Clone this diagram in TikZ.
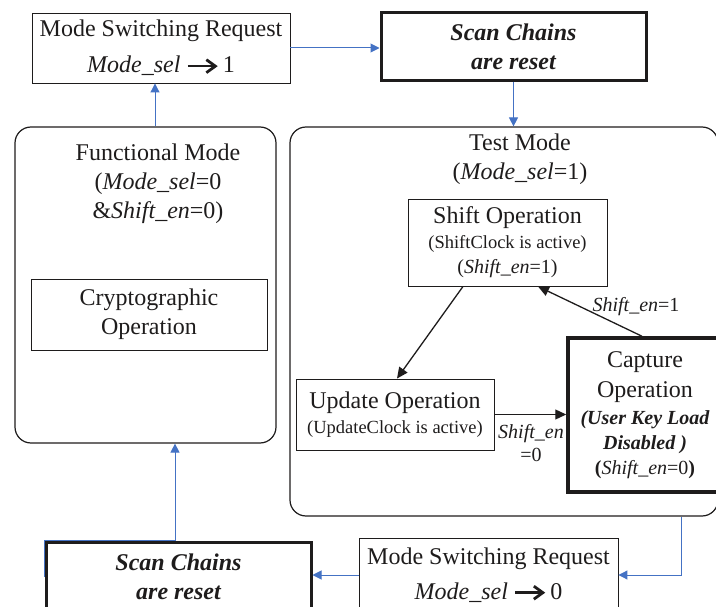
\documentclass[tikz,border=0pt]{standalone}
\usepackage{fontspec}
\setmainfont{Liberation Serif}
\usetikzlibrary{arrows.meta}
\definecolor{linkblue}{RGB}{68,114,196}
\definecolor{ink}{RGB}{30,28,28}
% heavy arrow used inside the mode-switching requests
\newcommand{\selarrow}{\tikz[baseline=-0.6ex,x=1pt,y=1pt]{%
  \draw[ink,line width=2.6pt] (0,0) -- (26,0);
  \draw[ink,line width=2.8pt,line join=miter,line cap=butt] (18.5,6.5) -- (27.5,0) -- (18.5,-6.5);}}
\begin{document}
\begin{tikzpicture}[x=1pt,y=-1pt,
  box/.style={draw=ink, line width=0.9pt, inner sep=0pt, align=center, text=ink},
  thickbox/.style={box, line width=3pt},
  container/.style={draw=ink, line width=1.2pt, rounded corners=16pt, inner sep=0pt},
  txt/.style={inner sep=0pt, align=center, text=ink},
  big/.style={font=\fontsize{24}{29}\selectfont},
  bigbi/.style={font=\fontsize{24}{29}\selectfont\bfseries\itshape},
  flow/.style={linkblue, line width=1pt, -{Triangle[length=9pt,width=9pt]}},
  trans/.style={ink, line width=1.3pt, -{Triangle[length=11pt,width=10pt]}},
]
\useasboundingbox (0,0) rectangle (716,607);
\clip (0,0) rectangle (716,607);

% top row
\node[box, big, minimum width=258pt, minimum height=70pt] (msr1) at (161,48)
  {Mode Switching Request\\[7pt]\textit{Mode\_sel} \selarrow\ 1};
\node[thickbox, bigbi, minimum width=265pt, minimum height=68pt] (scan1) at (513.5,47)
  {Scan Chains\\are reset};

% functional mode
\node[container, minimum width=261pt, minimum height=316pt] (func) at (145.5,285) {};
\node[txt, big] (functitle) at (158,184)
  {Functional Mode\\(\textit{Mode\_sel}=0\\\&\textit{Shift\_en}=0)};
\node[box, big, minimum width=236pt, minimum height=71pt] (crypto) at (149,314.5)
  {Cryptographic\\Operation};

% test mode
\node[container, minimum width=428pt, minimum height=389pt] (test) at (504,321.5) {};
\node[txt, big] (testtitle) at (520,159) {Test Mode\\(\textit{Mode\_sel}=1)};
\node[box, minimum width=199pt, minimum height=87pt, font=\fontsize{24}{25}\selectfont] (shift) at (507.5,242.5)
  {Shift Operation\\{\fontsize{18.5}{25}\selectfont(ShiftClock is active)}\\{\fontsize{20}{25}\selectfont(\textit{Shift\_en}=1)}};
\node[box, minimum width=198pt, minimum height=71pt, font=\fontsize{24}{25}\selectfont] (update) at (395,414.5)
  {Update Operation\\{\fontsize{18.5}{25}\selectfont(UpdateClock is active)}};
\node[thickbox, line width=3.5pt, minimum width=154pt, minimum height=154pt, font=\fontsize{24}{25}\selectfont] (capture) at (645,415)
  {Capture\\[5pt]Operation\\[2pt]{\fontsize{20}{25}\selectfont\bfseries\itshape (User Key Load}\\{\fontsize{20}{25}\selectfont\bfseries\itshape Disabled )}\\{\fontsize{20}{25}\selectfont\textbf{(}\textit{Shift\_en}=0\textbf{)}}};

% transition labels
\node[txt, font=\fontsize{20}{24}\selectfont] (lblset) at (636,307) {\textit{Shift\_en}=1};
\node[txt, font=\fontsize{20}{23}\selectfont] (lblclr) at (531,443) {\textit{Shift\_en}\\=0};

% bottom row
\node[box, big, minimum width=259pt, minimum height=74pt] (msr0) at (488.5,575)
  {Mode Switching Request\\[6pt]\textit{Mode\_sel} \selarrow\ 0};
\node[thickbox, bigbi, minimum width=265pt, minimum height=70pt] (scan0) at (178.5,577)
  {Scan Chains\\are reset};

% mode-switching flow
\coordinate (fTop) at ([xshift=9.5pt]func.north);
\draw[flow] (fTop) -- (fTop |- msr1.south);
\draw[flow] (msr1.east) -- (msr1.east -| scan1.west);
\draw[flow] (scan1.south) -- (scan1.south |- test.north);
\coordinate (tOut) at ([xshift=177pt]test.south);
\draw[flow] (tOut) |- (msr0.east);
\draw[flow] (msr0.west) -- (msr0.west -| scan0.east);
\coordinate (fBot) at ([xshift=29.5pt]func.south);
\draw[flow] (scan0.west) -- (scan0.north west) -- (fBot |- scan0.north) -- (fBot);

% test-mode operations
\draw[trans] ([xshift=-44.5pt]shift.south) -- ([xshift=2pt]update.north);
\draw[trans] ([xshift=-3pt]capture.north) -- ([xshift=30.5pt]shift.south);
\draw[trans] (update.east) -- (update.east -| capture.west);
\end{tikzpicture}
\end{document}
